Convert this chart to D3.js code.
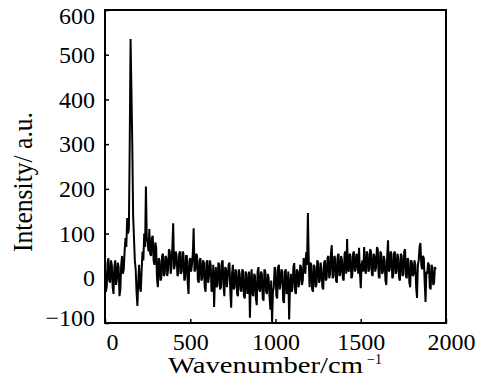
<!DOCTYPE html>
<html>
<head>
<meta charset="utf-8">
<title></title>
<script src="https://cdn.jsdelivr.net/npm/d3@7/dist/d3.min.js"></script>
<style>
body { margin: 0; background: #fff; }
</style>
</head>
<body>
<script>
// values, every 5 cm^-1
var wavenumber = [
  0,5,10,15,20,25,30,35,40,45,50,55,60,65,70,75,80,85,90,95,
  100,105,110,115,120,125,130,135,140,145,150,155,160,165,170,175,180,185,190,195,
  200,205,210,215,220,225,230,235,240,245,250,255,260,265,270,275,280,285,290,295,
  300,305,310,315,320,325,330,335,340,345,350,355,360,365,370,375,380,385,390,395,
  400,405,410,415,420,425,430,435,440,445,450,455,460,465,470,475,480,485,490,495,
  500,505,510,515,520,525,530,535,540,545,550,555,560,565,570,575,580,585,590,595,
  600,605,610,615,620,625,630,635,640,645,650,655,660,665,670,675,680,685,690,695,
  700,705,710,715,720,725,730,735,740,745,750,755,760,765,770,775,780,785,790,795,
  800,805,810,815,820,825,830,835,840,845,850,855,860,865,870,875,880,885,890,895,
  900,905,910,915,920,925,930,935,940,945,950,955,960,965,970,975,980,985,990,995,
  1000,1005,1010,1015,1020,1025,1030,1035,1040,1045,1050,1055,1060,1065,1070,1075,1080,1085,1090,1095,
  1100,1105,1110,1115,1120,1125,1130,1135,1140,1145,1150,1155,1160,1165,1170,1175,1180,1185,1190,1195,
  1200,1205,1210,1215,1220,1225,1230,1235,1240,1245,1250,1255,1260,1265,1270,1275,1280,1285,1290,1295,
  1300,1305,1310,1315,1320,1325,1330,1335,1340,1345,1350,1355,1360,1365,1370,1375,1380,1385,1390,1395,
  1400,1405,1410,1415,1420,1425,1430,1435,1440,1445,1450,1455,1460,1465,1470,1475,1480,1485,1490,1495,
  1500,1505,1510,1515,1520,1525,1530,1535,1540,1545,1550,1555,1560,1565,1570,1575,1580,1585,1590,1595,
  1600,1605,1610,1615,1620,1625,1630,1635,1640,1645,1650,1655,1660,1665,1670,1675,1680,1685,1690,1695,
  1700,1705,1710,1715,1720,1725,1730,1735,1740,1745,1750,1755,1760,1765,1770,1775,1780,1785,1790,1795,
  1800,1805,1810,1815,1820,1825,1830,1835,1840,1845,1850,1855,1860,1865,1870,1875,1880,1885,1890,1895,
  1900,1905,1910,1915,1920,1925,1930,1935,1940
];
var intensity = [
  20,-30,-20,35,45,-5,-10,40,30,-20,-35,25,40,-15,0,35,25,-40,-25,30,
  50,10,20,60,90,70,135,100,110,300,535,420,300,140,90,40,20,-30,-62,-10,
  30,-20,-30,20,60,40,100,70,205,90,80,60,110,55,50,90,95,40,30,80,
  70,0,-20,45,40,-5,0,50,55,5,10,50,45,5,20,65,60,10,25,70,
  123,20,30,60,50,5,10,55,60,10,15,60,55,-5,0,50,50,-10,-35,40,
  45,15,30,55,112,15,20,55,50,-5,-10,40,45,-5,0,40,35,-20,-30,35,
  40,-10,5,40,30,-30,-25,30,-64,0,25,-20,-15,35,30,-25,-20,35,40,-15,
  -40,25,20,-20,5,30,35,-30,-66,10,30,-25,-20,20,15,-35,-40,20,10,-25,
  -30,20,15,-40,-45,15,10,-35,-20,15,-88,-10,20,-35,-40,10,5,-45,-60,15,
  25,-25,-30,15,10,-45,-50,20,15,-30,-35,10,0,-40,-70,-5,-98,-30,-20,25,
  20,-40,-45,25,30,-25,-10,20,15,-50,-55,15,20,-35,-30,15,-92,-20,10,-30,
  -20,25,34,-30,-35,20,15,-20,-10,30,25,-15,-5,45,40,10,58,30,146,40,
  -20,35,30,-25,-30,30,25,-20,-15,40,35,-10,-5,35,20,-20,-25,35,40,-5,
  0,45,50,0,10,55,74,0,5,50,45,-5,-10,50,55,5,10,50,40,0,
  -5,55,60,10,88,20,15,55,50,0,5,55,60,15,20,55,45,10,68,15,
  -22,30,40,15,70,20,10,60,55,15,20,65,60,10,5,55,50,15,25,70,
  65,5,0,60,55,10,15,50,40,-5,-15,50,85,15,20,60,55,0,5,55,
  60,10,15,55,45,0,-5,55,50,5,10,60,65,5,0,45,40,-10,-20,40,
  35,5,10,40,30,-20,-44,30,40,70,79,30,20,50,45,-10,-53,15,10,35,
  30,-20,-25,30,25,-15,-10,25,20
];
var xTicks = [0, 500, 1000, 1500, 2000];
var yTicks = [-100, 0, 100, 200, 300, 400, 500, 600];

var W = 480, H = 389;
var mLeft = 105, mRight = 446, mTop = 10, mBottom = 323;
var serif = "'Liberation Serif', 'Times New Roman', serif";

var svg = d3.select("body").append("svg")
    .attr("width", W)
    .attr("height", H);

var x = d3.scaleLinear().domain([0, 2000]).range([mLeft, mRight]);
var y = d3.scaleLinear().domain([-100, 600]).range([mBottom, mTop]);

var pts = wavenumber.map(function(d, i) { return [d, intensity[i]]; });

var line = d3.line()
    .x(function(d) { return x(d[0]); })
    .y(function(d) { return y(d[1]); });

svg.append("path")
    .datum(pts)
    .attr("d", line)
    .attr("fill", "none")
    .attr("stroke", "#000")
    .attr("stroke-width", 2)
    .attr("stroke-linejoin", "miter");

// x axis, ticks pointing inward
var xAxis = d3.axisBottom(x).tickValues(xTicks).tickFormat(d3.format("d"))
    .tickSize(-4).tickPadding(10);
var gx = svg.append("g")
    .attr("transform", "translate(0," + mBottom + ")")
    .call(xAxis);
gx.select(".domain").remove();
gx.selectAll("line").attr("stroke", "#000").attr("stroke-width", 1.5);
gx.selectAll("text")
    .style("font-family", serif)
    .style("font-size", "24px")
    .attr("fill", "#000")
    .attr("dx", function(d) { return d == 0 ? 7 : (d == 2000 ? 5 : 0); });

var yAxis = d3.axisLeft(y).tickValues(yTicks).tickFormat(d3.format("d"))
    .tickSize(-4).tickPadding(10);
var gy = svg.append("g")
    .attr("transform", "translate(" + mLeft + ",0)")
    .call(yAxis);
gy.select(".domain").remove();
gy.selectAll("line").attr("stroke", "#000").attr("stroke-width", 1.5);
gy.selectAll("text")
    .style("font-family", serif)
    .style("font-size", "24px")
    .attr("fill", "#000")
    .attr("dy", function(d) { return d == 600 ? "0.55em" : (d == -100 ? "0.1em" : "0.32em"); });

// frame
svg.append("rect")
    .attr("x", mLeft)
    .attr("y", mTop)
    .attr("width", mRight - mLeft)
    .attr("height", mBottom - mTop)
    .attr("fill", "none")
    .attr("stroke", "#000")
    .attr("stroke-width", 2);

// axis titles
svg.append("text")
    .attr("x", 168)
    .attr("y", 373)
    .attr("textLength", 195)
    .attr("lengthAdjust", "spacingAndGlyphs")
    .style("font-family", serif)
    .style("font-size", "23px")
    .text("Wavenumber/cm");
svg.append("text")
    .attr("x", 367)
    .attr("y", 364)
    .style("font-family", serif)
    .style("font-size", "14px")
    .text("\u22121");

svg.append("text")
    .attr("transform", "translate(32,182) rotate(-90)")
    .attr("text-anchor", "middle")
    .attr("textLength", 140)
    .attr("lengthAdjust", "spacingAndGlyphs")
    .style("font-family", serif)
    .style("font-size", "27px")
    .text("Intensity/ a.u.");
</script>
</body>
</html>
